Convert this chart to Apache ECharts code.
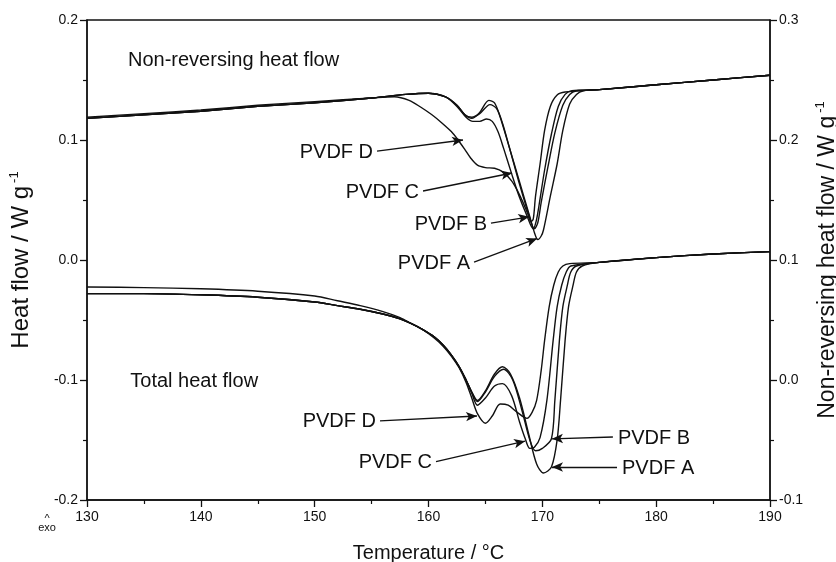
<!DOCTYPE html>
<html>
<head>
<meta charset="utf-8">
<script src="https://cdn.jsdelivr.net/npm/echarts@6/dist/echarts.min.js"></script>
<style>
  html, body { margin: 0; padding: 0; background: #fff; }
  #chart { width: 836px; height: 562px; }
</style>
</head>
<body>
<div id="chart"></div>
<script>
// ---- Axis ticks ----
const tempTicks = [130, 140, 150, 160, 170, 180, 190];
const heatFlowTicks = [-0.2, -0.1, 0.0, 0.1, 0.2];
const nonRevTicks = [-0.1, 0.0, 0.1, 0.2, 0.3];
const sampleNames = ['PVDF A', 'PVDF B', 'PVDF C', 'PVDF D'];

// ---- Non-reversing heat flow (right axis), [T / °C, W g-1] ----
const nonRevA = [[130,0.218],[135,0.221],[140,0.224],[145,0.228],[150,0.231],[155,0.235],[158,0.238],[160,0.239],
  [161.5,0.236],[162.5,0.229],[163.2,0.221],[163.8,0.218],[164.5,0.223],[165.3,0.233],[165.8,0.231],[166.3,0.219],
  [167,0.197],[168,0.165],[168.9,0.136],[169.3,0.123],[169.6,0.117],[169.9,0.12],[170.1,0.125],[170.7,0.153],
  [171.3,0.18],[171.8,0.208],[172.4,0.23],[173,0.238],[173.6,0.241],[175,0.242],[180,0.246],[185,0.25],[190,0.254]];
const nonRevB = [[130,0.218],[135,0.221],[140,0.224],[145,0.228],[150,0.231],[155,0.235],[158,0.238],[160,0.239],
  [161.5,0.236],[162.5,0.229],[163.2,0.221],[163.8,0.219],[164.5,0.222],[165.4,0.2295],[166,0.226],[166.5,0.214],
  [167.1,0.194],[168,0.163],[168.8,0.138],[169.3,0.126],[169.6,0.131],[169.9,0.148],[170.5,0.178],[171.1,0.206],
  [171.8,0.229],[172.4,0.238],[173,0.241],[175,0.242],[180,0.246],[185,0.25],[190,0.254]];
const nonRevC = [[130,0.218],[135,0.221],[140,0.224],[145,0.228],[150,0.231],[155,0.235],[158,0.238],[160,0.239],
  [161.5,0.236],[162.5,0.228],[163.3,0.219],[163.9,0.2155],[164.5,0.2155],[165.1,0.2175],[165.6,0.2155],[166.1,0.207],
  [166.6,0.193],[167.3,0.172],[168,0.152],[168.6,0.138],[169.2,0.126],[169.45,0.132],[169.7,0.145],[170.2,0.175],
  [170.8,0.205],[171.4,0.228],[172,0.238],[172.6,0.241],[175,0.242],[180,0.246],[185,0.25],[190,0.254]];
const nonRevD = [[130,0.219],[135,0.222],[140,0.225],[145,0.229],[150,0.232],[155,0.235],[157,0.236],[158.3,0.233],
  [159.3,0.2275],[160.3,0.221],[161.2,0.214],[162,0.207],[162.6,0.2],[163.2,0.192],[163.7,0.185],[164.3,0.179],
  [165,0.177],[165.8,0.1765],[166.6,0.173],[167.3,0.166],[167.8,0.158],[168.3,0.148],[168.7,0.139],[169,0.132],
  [169.2,0.134],[169.4,0.153],[169.8,0.18],[170.2,0.208],[170.7,0.228],[171.3,0.2375],[172,0.24],[175,0.242],
  [180,0.246],[185,0.25],[190,0.254]];

// ---- Total heat flow (left axis), [T / °C, W g-1] ----
const totalA = [[130,-0.028],[135,-0.028],[140,-0.029],[145,-0.031],[150,-0.035],[152,-0.038],[154,-0.041],[156,-0.045],
  [157.5,-0.049],[158.5,-0.053],[159.5,-0.058],[160.5,-0.064],[161.3,-0.071],[162,-0.079],[162.7,-0.089],[163.3,-0.1],
  [163.8,-0.11],[164.3,-0.117],[165,-0.109],[165.8,-0.095],[166.5,-0.089],[167.2,-0.095],[168,-0.115],[168.8,-0.145],
  [169.5,-0.17],[170.1,-0.1775],[170.8,-0.1725],[171.3,-0.15],[171.6,-0.117],[172,-0.067],[172.3,-0.039],
  [172.7,-0.021],[173,-0.01],[173.5,-0.005],[175,-0.002],[180,0.002],[185,0.005],[190,0.007]];
const totalB = [[130,-0.028],[135,-0.028],[140,-0.029],[145,-0.031],[150,-0.035],[152,-0.038],[154,-0.041],[156,-0.045],
  [157.5,-0.049],[158.5,-0.053],[159.5,-0.058],[160.5,-0.064],[161.3,-0.071],[162,-0.079],[162.7,-0.089],[163.3,-0.1],
  [163.8,-0.11],[164.3,-0.118],[165,-0.11],[165.8,-0.097],[166.6,-0.091],[167.4,-0.1],[168.2,-0.125],[168.9,-0.15],
  [169.4,-0.159],[170,-0.157],[170.8,-0.149],[171.1,-0.117],[171.5,-0.067],[171.8,-0.039],[172.2,-0.021],
  [172.5,-0.01],[173,-0.005],[175,-0.002],[180,0.002],[185,0.005],[190,0.007]];
const totalC = [[130,-0.028],[135,-0.028],[140,-0.029],[145,-0.031],[150,-0.035],[152,-0.038],[154,-0.041],[156,-0.045],
  [157.5,-0.049],[158.5,-0.053],[159.5,-0.058],[160.5,-0.064],[161.3,-0.071],[162,-0.079],[162.7,-0.089],[163.3,-0.1],
  [163.8,-0.111],[164.3,-0.121],[165,-0.115],[165.8,-0.105],[166.5,-0.103],[167.3,-0.113],[168,-0.135],[168.5,-0.149],
  [168.9,-0.157],[169.3,-0.156],[169.8,-0.148],[170.4,-0.117],[170.95,-0.067],[171.3,-0.039],[171.7,-0.021],
  [172.1,-0.01],[172.5,-0.005],[175,-0.002],[180,0.002],[185,0.005],[190,0.007]];
const totalD = [[130,-0.0225],[135,-0.023],[140,-0.024],[145,-0.026],[150,-0.03],[152,-0.034],[154,-0.038],[156,-0.043],
  [157.5,-0.048],[158.5,-0.053],[159.5,-0.058],[160.5,-0.065],[161.3,-0.072],[162,-0.08],[162.7,-0.09],[163.3,-0.102],
  [163.8,-0.115],[164.3,-0.128],[165,-0.136],[165.6,-0.13],[166.3,-0.12],[167,-0.121],[167.8,-0.127],[168.65,-0.132],
  [169.1,-0.127],[169.5,-0.117],[169.9,-0.092],[170.2,-0.067],[170.6,-0.039],[171,-0.021],[171.4,-0.01],
  [171.8,-0.005],[172.4,-0.003],[175,-0.002],[180,0.002],[185,0.005],[190,0.007]];

const nonRevSeries = [nonRevA, nonRevB, nonRevC, nonRevD];
const totalSeries = [totalA, totalB, totalC, totalD];

// Callouts: label anchor (tail of arrow) and arrow head, in axis units
const nonRevCallouts = [
  { text: 'PVDF D', from: [155.48, 0.1908], to: [163.03, 0.2], side: 'left' },
  { text: 'PVDF C', from: [159.52, 0.1575], to: [167.34, 0.1725], side: 'left' },
  { text: 'PVDF B', from: [165.49, 0.1308], to: [168.85, 0.136], side: 'left' },
  { text: 'PVDF A', from: [164.0, 0.0983], to: [169.55, 0.118], side: 'left' }
];
const totalCallouts = [
  { text: 'PVDF D', from: [155.74, -0.134], to: [164.26, -0.13], side: 'left' },
  { text: 'PVDF C', from: [160.66, -0.168], to: [168.48, -0.151], side: 'left' },
  { text: 'PVDF B', from: [176.2, -0.1475], to: [170.85, -0.149], side: 'right' },
  { text: 'PVDF A', from: [176.56, -0.1725], to: [170.85, -0.1725], side: 'right' }
];

const FONT = '"Liberation Sans", Arial, Helvetica, sans-serif';
const INK = '#111';

const chart = echarts.init(document.getElementById('chart'), null, { renderer: 'canvas' });

function arrowLines(callouts) {
  return {
    silent: true,
    symbol: ['none', 'arrow'],
    symbolSize: [7, 11],
    lineStyle: { color: INK, width: 1.3, type: 'solid' },
    label: { show: false },
    emphasis: { disabled: true },
    data: callouts.map(c => [{ coord: c.from }, { coord: c.to }])
  };
}

function curve(name, data, yAxisIndex, callouts) {
  const s = {
    name: name,
    type: 'line',
    yAxisIndex: yAxisIndex,
    data: data,
    showSymbol: false,
    smooth: 0.3,
    lineStyle: { color: INK, width: 1.4 },
    emphasis: { disabled: true },
    animation: false
  };
  if (callouts) s.markLine = arrowLines(callouts);
  return s;
}

const series = [];
nonRevSeries.forEach((d, i) => series.push(curve(sampleNames[i] + ' non-reversing', d, 1, i === 0 ? nonRevCallouts : null)));
totalSeries.forEach((d, i) => series.push(curve(sampleNames[i] + ' total', d, 0, i === 0 ? totalCallouts : null)));

const axisText = { color: INK, fontFamily: FONT, fontSize: 14 };
function nameStyle(size) {
  return {
    color: INK, fontFamily: FONT, fontSize: size,
    rich: { sup: { color: INK, fontFamily: FONT, fontSize: 13, padding: [0, 0, 14, 3] } }
  };
}

function valueAxis(ticks, position, nameStr, gap, size) {
  return {
    type: 'value',
    position: position,
    min: ticks[0],
    max: ticks[ticks.length - 1],
    interval: ticks[1] - ticks[0],
    name: nameStr,
    nameLocation: 'middle',
    nameRotate: 90,
    nameGap: gap,
    nameTextStyle: nameStyle(size),
    axisLine: { show: true, onZero: false, lineStyle: { color: INK, width: 1.5 } },
    axisTick: { show: true, inside: false, length: 7, lineStyle: { color: INK, width: 1.3 } },
    minorTick: { show: true, splitNumber: 2, length: 4, lineStyle: { color: INK, width: 1.2 } },
    splitLine: { show: false },
    axisLabel: Object.assign({ margin: 9, formatter: v => v.toFixed(1) }, axisText)
  };
}

chart.setOption({
  animation: false,
  backgroundColor: '#fff',
  grid: {
    left: 87, right: 66, top: 20, bottom: 62,
    show: true, borderColor: INK, borderWidth: 1.3,
    containLabel: false, outerBoundsMode: 'none'
  },
  xAxis: {
    type: 'value',
    min: tempTicks[0],
    max: tempTicks[tempTicks.length - 1],
    interval: tempTicks[1] - tempTicks[0],
    name: 'Temperature / °C',
    nameLocation: 'middle',
    nameGap: 43,
    nameTextStyle: { color: INK, fontFamily: FONT, fontSize: 20 },
    axisLine: { show: true, onZero: false, lineStyle: { color: INK, width: 1.5 } },
    axisTick: { show: true, inside: false, length: 7, lineStyle: { color: INK, width: 1.3 } },
    minorTick: { show: true, splitNumber: 2, length: 4, lineStyle: { color: INK, width: 1.2 } },
    splitLine: { show: false },
    axisLabel: Object.assign({ margin: 10 }, axisText)
  },
  yAxis: [
    valueAxis(heatFlowTicks, 'left', 'Heat flow / W g{sup|-1}', 52, 24),
    valueAxis(nonRevTicks, 'right', 'Non-reversing heat flow / W g{sup|-1}', 38, 23)
  ],
  series: series
});

// Text annotations placed in data coordinates
function toPx(yAxisIndex, pt) {
  return chart.convertToPixel({ xAxisIndex: 0, yAxisIndex: yAxisIndex }, pt);
}
const labelStyle = { fill: INK, font: '20px ' + FONT, textVerticalAlign: 'middle' };
const graphics = [];
function addCallouts(callouts, yIdx) {
  callouts.forEach(c => {
    const p = toPx(yIdx, c.from);
    graphics.push({
      type: 'text', silent: true,
      x: c.side === 'left' ? p[0] - 4 : p[0] + 5, y: p[1] + 1,
      style: Object.assign({ text: c.text, textAlign: c.side === 'left' ? 'right' : 'left' }, labelStyle)
    });
  });
}
addCallouts(nonRevCallouts, 1);
addCallouts(totalCallouts, 0);

const nrTitle = toPx(1, [133.6, 0.266]);
graphics.push({ type: 'text', silent: true, x: nrTitle[0], y: nrTitle[1],
  style: Object.assign({ text: 'Non-reversing heat flow', textAlign: 'left' }, labelStyle) });
const totTitle = toPx(0, [133.8, -0.101]);
graphics.push({ type: 'text', silent: true, x: totTitle[0], y: totTitle[1],
  style: Object.assign({ text: 'Total heat flow', textAlign: 'left' }, labelStyle) });

// exotherm direction marker under the heat-flow axis
const exo = toPx(0, [130, -0.2]);
graphics.push({ type: 'text', silent: true, x: exo[0] - 40, y: exo[1] + 19,
  style: { text: '^', fill: INK, font: '11px ' + FONT, textAlign: 'center', textVerticalAlign: 'middle' } });
graphics.push({ type: 'text', silent: true, x: exo[0] - 40, y: exo[1] + 28,
  style: { text: 'exo', fill: INK, font: '11px ' + FONT, textAlign: 'center', textVerticalAlign: 'middle' } });

chart.setOption({ graphic: graphics });
</script>
</body>
</html>
